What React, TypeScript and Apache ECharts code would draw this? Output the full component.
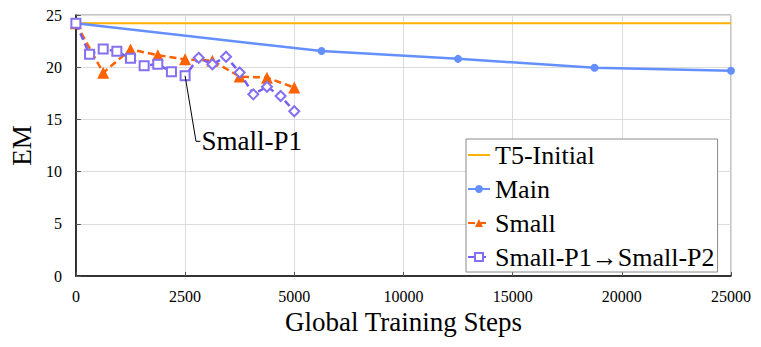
import React, { useEffect, useRef } from "react";
import * as echarts from "echarts";

// X axis is drawn with evenly spaced tick labels (piecewise scale)
const X_TICKS = [0, 2500, 5000, 10000, 15000, 20000, 25000];
const Y_MIN = 0;
const Y_MAX = 25;
const Y_INTERVAL = 5;

const T5_STEPS = [0, 25000];
const T5_VALUES = [24.2, 24.2];

const MAIN_STEPS = [0, 6250, 12500, 18750, 25000];
const MAIN_VALUES = [24.2, 21.55, 20.8, 19.95, 19.66];

const SMALL_STEPS = [0, 625, 1250, 1875, 2500, 3125, 3750, 4375, 5000];
const SMALL_VALUES = [24.2, 19.47, 21.7, 21.15, 20.75, 20.62, 19.1, 19.0, 18.05];

const P_STEPS = [
  0, 312.5, 625, 937.5, 1250, 1562.5, 1875, 2187.5, 2500,
  2812.5, 3125, 3437.5, 3750, 4062.5, 4375, 4687.5, 5000,
];
const P_VALUES = [
  24.2, 21.24, 21.74, 21.52, 20.85, 20.14, 20.28, 19.57, 19.18,
  20.9, 20.28, 21.0, 19.5, 17.4, 18.13, 17.24, 15.78,
];
// phase of each point: P1 (squares) or P2 (diamonds)
const P_PHASE = [
  "P1", "P1", "P1", "P1", "P1", "P1", "P1", "P1", "P1",
  "P2", "P2", "P2", "P2", "P2", "P2", "P2", "P2",
];

const SERIES_NAMES = ["T5-Initial", "Main", "Small", "Small-P1→Small-P2"];
const CALLOUT_TEXT = "Small-P1";
const CALLOUT_ANCHOR_INDEX = 8; // last Small-P1 point
const CALLOUT_ELBOW = [2750, 12.9];
const CALLOUT_END = [2840, 12.9];

const FONT = "Times New Roman";

function toAxis(step: number): number {
  for (let i = 0; i < X_TICKS.length - 1; i++) {
    const a = X_TICKS[i];
    const b = X_TICKS[i + 1];
    if (step <= b) return i + (step - a) / (b - a);
  }
  return X_TICKS.length - 1;
}

function pairs(steps: number[], values: number[]) {
  return steps.map((s, i) => [toAxis(s), values[i]]);
}

function buildOption() {
  const pData = P_STEPS.map((s, i) => ({
    value: [toAxis(s), P_VALUES[i]],
    symbol: P_PHASE[i] === "P1" ? "emptyRect" : "emptyDiamond",
    symbolSize: P_PHASE[i] === "P1" ? 9 : 10,
  }));

  const calloutData = [
    { value: [toAxis(P_STEPS[CALLOUT_ANCHOR_INDEX]), P_VALUES[CALLOUT_ANCHOR_INDEX]], symbol: "none" },
    { value: [toAxis(CALLOUT_ELBOW[0]), CALLOUT_ELBOW[1]], symbol: "none" },
    {
      value: [toAxis(CALLOUT_END[0]), CALLOUT_END[1]],
      symbol: "circle",
      symbolSize: 1,
      label: {
        show: true,
        position: "right",
        distance: 1,
        formatter: CALLOUT_TEXT,
        fontFamily: FONT,
        fontSize: 27,
        color: "#000",
      },
    },
  ];

  return {
    animation: false,
    backgroundColor: "#ffffff",
    textStyle: { fontFamily: FONT },
    grid: {
      left: 72,
      right: 30,
      top: 15,
      bottom: 71,
      show: true,
      borderColor: "#8a8a8a",
      borderWidth: 1,
      containLabel: false,
    },
    legend: {
      orient: "vertical",
      left: 466,
      top: 139,
      width: 259,
      padding: [3, 3, 2, 1],
      itemGap: 8,
      itemWidth: 22,
      itemHeight: 10,
      borderColor: "#8a8a8a",
      borderWidth: 1,
      backgroundColor: "#ffffff",
      textStyle: { fontFamily: FONT, fontSize: 26, color: "#000" },
      data: [
        { name: SERIES_NAMES[0], icon: "path://M0,0H22V2H0Z" },
        { name: SERIES_NAMES[1] },
        { name: SERIES_NAMES[2] },
        { name: SERIES_NAMES[3] },
      ],
    },
    xAxis: {
      type: "value",
      min: 0,
      max: X_TICKS.length - 1,
      interval: 1,
      name: "Global Training Steps",
      nameLocation: "middle",
      nameGap: 31,
      nameTextStyle: { fontFamily: FONT, fontSize: 27, color: "#000" },
      axisLine: { show: true, onZero: false, lineStyle: { color: "#000", width: 1.5 } },
      axisTick: { show: true, inside: true, length: 4, lineStyle: { color: "#555" } },
      axisLabel: {
        margin: 12,
        fontFamily: FONT,
        fontSize: 16,
        color: "#000",
        formatter: (v: number) => {
          const i = Math.round(v);
          return Math.abs(v - i) < 1e-6 && X_TICKS[i] !== undefined ? String(X_TICKS[i]) : "";
        },
      },
      splitLine: { show: true, lineStyle: { color: "#dcdcdc", width: 1 } },
    },
    yAxis: {
      type: "value",
      min: Y_MIN,
      max: Y_MAX,
      interval: Y_INTERVAL,
      name: "EM",
      nameLocation: "middle",
      nameGap: 33,
      nameTextStyle: { fontFamily: FONT, fontSize: 27, color: "#000" },
      axisLine: { show: true, lineStyle: { color: "#000", width: 1.5 } },
      axisTick: { show: true, inside: true, length: 5, lineStyle: { color: "#555" } },
      axisLabel: { margin: 14, fontFamily: FONT, fontSize: 16, color: "#000" },
      splitLine: { show: true, lineStyle: { color: "#dcdcdc", width: 1 } },
    },
    series: [
      {
        name: SERIES_NAMES[0],
        type: "line",
        data: pairs(T5_STEPS, T5_VALUES),
        symbol: "none",
        lineStyle: { color: "#FFB000", width: 2 },
        itemStyle: { color: "#FFB000" },
        z: 1,
      },
      {
        name: SERIES_NAMES[1],
        type: "line",
        data: pairs(MAIN_STEPS, MAIN_VALUES),
        symbol: "circle",
        symbolSize: 8,
        lineStyle: { color: "#648FFF", width: 2.5 },
        itemStyle: { color: "#648FFF" },
        z: 2,
      },
      {
        name: SERIES_NAMES[2],
        type: "line",
        data: pairs(SMALL_STEPS, SMALL_VALUES),
        symbol: "triangle",
        symbolSize: 12,
        lineStyle: { color: "#FE6100", width: 2.5, type: [7, 4] },
        itemStyle: { color: "#FE6100" },
        z: 3,
      },
      {
        name: SERIES_NAMES[3],
        type: "line",
        data: pData,
        symbol: "emptyRect",
        symbolSize: 9,
        lineStyle: { color: "#785EF0", width: 2.5, type: [7, 4] },
        itemStyle: { color: "#8470F0", borderWidth: 1.5 },
        z: 4,
      },
      {
        name: "callout",
        type: "line",
        data: calloutData,
        silent: true,
        lineStyle: { color: "#000", width: 1 },
        itemStyle: { color: "#000" },
        z: 5,
      },
    ],
  };
}

export default function App() {
  const ref = useRef<HTMLDivElement>(null);

  useEffect(() => {
    if (!ref.current) return;
    const chart = echarts.init(ref.current, undefined, { renderer: "svg" });
    chart.setOption(buildOption() as any);
    return () => chart.dispose();
  }, []);

  return (
    <div
      ref={ref}
      style={{ position: "fixed", left: 0, top: 0, width: 761, height: 347 }}
    />
  );
}
